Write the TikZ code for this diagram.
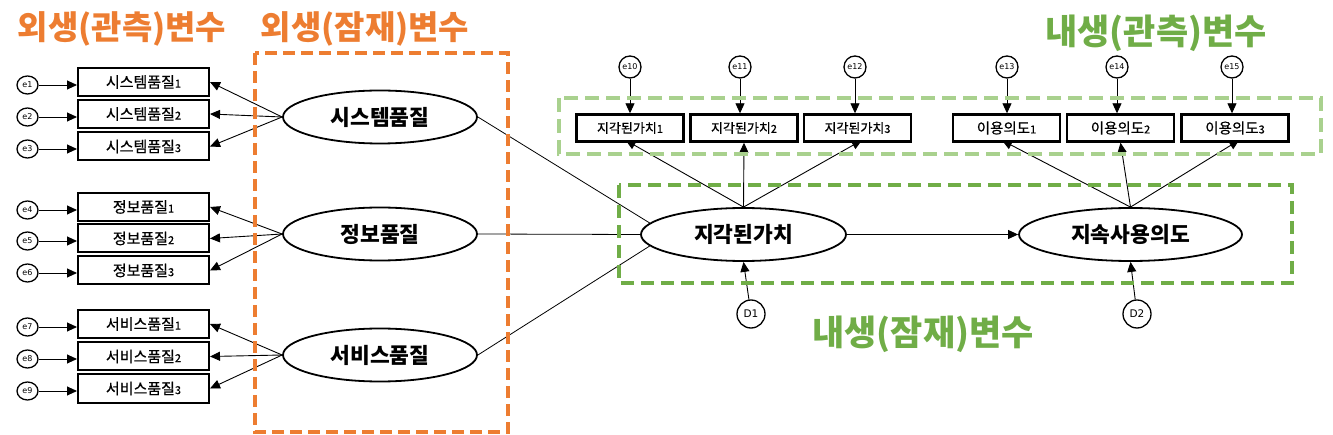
\documentclass[tikz,border=0pt]{standalone}
\usepackage{fontspec}
\newfontfamily\kr{Noto Sans CJK KR}
\newfontfamily\krm[BoldFont={Noto Sans CJK KR},BoldFeatures={FakeBold=0.6}]{Noto Sans CJK KR}
\newfontfamily\dvs{DejaVu Sans}
\usetikzlibrary{arrows.meta,calc,backgrounds,shapes.geometric}
\definecolor{orng}{HTML}{ED7D31}
\definecolor{grn}{HTML}{70AD47}
\definecolor{lgrn}{HTML}{A9D18E}
\newcommand\subdg[1]{{\fontsize{11}{12}\selectfont #1}}
\begin{document}
\begin{tikzpicture}[x=1pt,y=-1pt,
  obs/.style={draw,line width=2pt,fill=white,minimum width=131pt,minimum height=28pt,inner sep=0pt,font=\krm\bfseries\fontsize{15}{16}\selectfont},
  obst/.style={draw,line width=2.4pt,fill=white,minimum width=107pt,minimum height=27pt,inner sep=0pt,font=\krm\bfseries\fontsize{13}{14}\selectfont},
  obsu/.style={obst,font=\krm\bfseries\fontsize{14.5}{15}\selectfont},
  lat/.style={draw,ellipse,line width=1.8pt,fill=white,inner sep=0pt,minimum height=53pt,font=\kr\bfseries\fontsize{21.5}{24}\selectfont},
  err/.style={draw,ellipse,line width=1.3pt,fill=white,minimum width=21pt,minimum height=18pt,inner sep=0pt,font=\dvs\fontsize{8}{9}\selectfont},
  errt/.style={draw,circle,line width=1.3pt,fill=white,minimum size=22pt,inner sep=0pt,font=\dvs\fontsize{8}{9}\selectfont},
  dist/.style={draw,circle,line width=1.3pt,fill=white,minimum size=28pt,inner sep=0pt,font=\dvs\fontsize{10.5}{11}\selectfont},
  arr/.style={-{Triangle[length=10pt,width=9pt]},line width=0.9pt},
  ln/.style={line width=0.8pt},
  ttl/.style={font=\kr\bfseries\fontsize{33}{40}\selectfont,inner sep=0pt},
  ttlg/.style={ttl,font=\kr\bfseries\fontsize{35}{40}\selectfont},
  rbox/.style={line width=4pt,dash pattern=on 12pt off 6pt}
]
\useasboundingbox (0,0) rectangle (1333,435);

% titles
\node[ttl,text=orng] (t_oo) at (122,29) {외생(관측)변수};
\node[ttl,text=orng] (t_ol) at (365,29) {외생(잠재)변수};
\node[ttlg,text=grn] (t_no) at (1156,33) {내생(관측)변수};
\node[ttlg,text=grn] (t_nl) at (923,334) {내생(잠재)변수};

% left observed boxes
\node[obs] (b1) at (143.5,82) {시스템품질\subdg{1}};
\node[obs] (b2) at (143.5,114) {시스템품질\subdg{2}};
\node[obs] (b3) at (143.5,146.5) {시스템품질\subdg{3}};
\node[obs] (b4) at (143.5,207) {정보품질\subdg{1}};
\node[obs] (b5) at (143.5,238.5) {정보품질\subdg{2}};
\node[obs] (b6) at (143.5,270.5) {정보품질\subdg{3}};
\node[obs] (b7) at (143.5,324) {서비스품질\subdg{1}};
\node[obs] (b8) at (143.5,356.5) {서비스품질\subdg{2}};
\node[obs] (b9) at (143.5,388.5) {서비스품질\subdg{3}};

% errors left
\foreach \i/\y in {1/85,2/117,3/149,4/210,5/241,6/273,7/327,8/359,9/391}
  \node[err] (e\i) at (27.5,\y) {e\i};

% latent exogenous
\node[lat,minimum width=194pt] (sys) at (380,117) {시스템품질};
\node[lat,minimum width=194pt] (info) at (380,234) {정보품질};
\node[lat,minimum width=194pt] (serv) at (380,355) {서비스품질};

% endogenous latent
\node[lat,minimum width=205pt] (pv) at (743.5,234.5) {지각된가치};
\node[lat,minimum width=223pt] (sv) at (1130.5,234.5) {지속사용의도};
\node[dist] (d1) at (751,314) {D1};
\node[dist] (d2) at (1137,314) {D2};

% top observed boxes
\node[obst] (t1) at (630,128) {지각된가치\subdg{1}};
\node[obst] (t2) at (744,128) {지각된가치\subdg{2}};
\node[obst] (t3) at (857.5,128) {지각된가치\subdg{3}};
\node[obsu] (u1) at (1006.5,128) {이용의도\subdg{1}};
\node[obsu] (u2) at (1120.5,128) {이용의도\subdg{2}};
\node[obsu] (u3) at (1235,128) {이용의도\subdg{3}};

\node[errt] (e10) at (630,67) {e10};
\node[errt] (e11) at (740,67) {e11};
\node[errt] (e12) at (855,67) {e12};
\node[errt] (e13) at (1007,67) {e13};
\node[errt] (e14) at (1117,67) {e14};
\node[errt] (e15) at (1232,67) {e15};

\begin{pgfonlayer}{background}
  \foreach \i in {1,...,9}
    \draw[arr] (e\i) -- (e\i -| b\i.west);
  \draw[arr] (sys.west) -- (b1.east);
  \draw[arr] (sys.west) -- (b2.east);
  \draw[arr] (sys.west) -- (b3.east);
  \draw[arr] (info.west) -- (b4.east);
  \draw[arr] (info.west) -- (b5.east);
  \draw[arr] (info.west) -- (b6.east);
  \draw[arr] (serv.west) -- (b7.east);
  \draw[arr] (serv.west) -- (b8.east);
  \draw[arr] (serv.west) -- (b9.east);

  \draw[ln] (sys.east) -- (pv.173);
  \draw[ln] (info.east) -- (pv.west);
  \draw[ln] (serv.east) -- (pv.187);

  \draw[arr] (pv) -- (sv);
  \draw[arr] (d1) -- (pv.south);
  \draw[arr] (d2) -- (sv.south);

  \draw[arr,shorten >=-5pt] (pv.north) -- (t1.south);
  \draw[arr] (pv.north) -- (t2.south);
  \draw[arr,shorten >=-5pt] (pv.north) -- (t3.south);
  \draw[arr,shorten >=-5pt] (sv.north) -- (u1.south);
  \draw[arr] (sv.north) -- (u2.south);
  \draw[arr,shorten >=-5pt] (sv.north) -- (u3.south);

  \draw[arr] (e10) -- (e10 |- t1.north);
  \draw[arr] (e11) -- (e11 |- t2.north);
  \draw[arr] (e12) -- (e12 |- t3.north);
  \draw[arr] (e13) -- (e13 |- u1.north);
  \draw[arr] (e14) -- (e14 |- u2.north);
  \draw[arr] (e15) -- (e15 |- u3.north);

  \draw[rbox,orng] (255,53) rectangle (508,432);
  \draw[rbox,lgrn,dash pattern=on 14pt off 7pt] (559,98) rectangle (1321,154);
  \draw[rbox,grn,dash pattern=on 13pt off 7pt] (619,185) rectangle (1292,283);
\end{pgfonlayer}
\end{tikzpicture}
\end{document}
